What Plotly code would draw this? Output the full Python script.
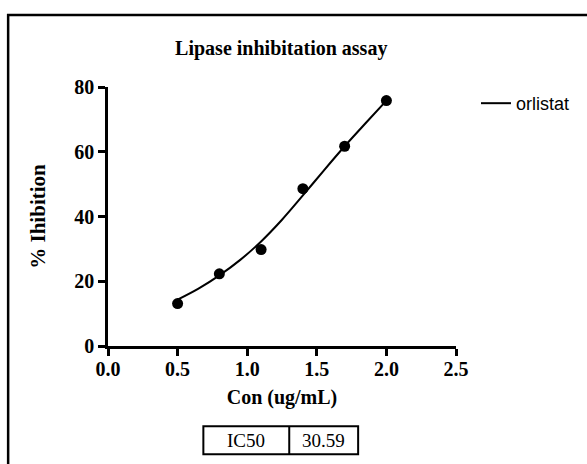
import plotly.graph_objects as go

# Data
conc = [0.5, 0.8, 1.1, 1.4, 1.7, 2.0]
inhibition = [13.1, 22.3, 29.8, 48.6, 61.7, 75.8]

# fitted curve
curve_x = [0.5, 0.65, 0.8, 0.95, 1.1, 1.25, 1.4, 1.55, 1.7, 1.85, 2.0]
curve_y = [14.3, 17.7, 21.8, 26.6, 32.3, 39.0, 46.5, 54.2, 61.7, 68.8, 75.8]

series_name = "orlistat"
x_ticks = [0.0, 0.5, 1.0, 1.5, 2.0, 2.5]
y_ticks = [0, 20, 40, 60, 80]
table_cells = ["IC50", "30.59"]

W, H = 587, 464
L, R = 107.5, 456.0
T, B = 86.5, 345.7

def px(xp):
    return (xp - L) / (R - L)

def py(yp):
    return (B - yp) / (B - T)

serif_b = dict(family="Liberation Serif, Times New Roman, serif", size=20, color="black", weight="bold")

fig = go.Figure()
fig.add_trace(go.Scatter(x=curve_x, y=curve_y, mode="lines", name=series_name,
                         line=dict(color="black", width=2, shape="spline"), showlegend=True))
fig.add_trace(go.Scatter(x=conc, y=inhibition, mode="markers", name=series_name,
                         marker=dict(color="black", size=11), showlegend=False))

fig.update_layout(
    width=W, height=H,
    margin=dict(l=L, r=W - R, t=T, b=H - B, pad=0),
    paper_bgcolor="white", plot_bgcolor="white",
    title=dict(text="Lipase inhibitation assay", x=px(281), xref="paper", xanchor="center",
               y=1 - 48 / H, yanchor="middle", font=dict(serif_b, size=20)),
    legend=dict(x=px(476), y=py(103), xanchor="left", yanchor="middle", xref="paper", yref="paper",
                font=dict(family="Liberation Sans, Arial, sans-serif", size=18, color="black"),
                bgcolor="rgba(0,0,0,0)", itemwidth=30, tracegroupgap=0),
    xaxis=dict(range=[0, 2.5], tickvals=x_ticks, ticktext=[f"{v:.1f}" for v in x_ticks],
               showgrid=False, zeroline=False, showline=True, linecolor="black", linewidth=2.5,
               ticks="outside", ticklen=7, tickwidth=2.5, tickcolor="black",
               tickfont=serif_b, ticklabelstandoff=-4,
               title=dict(text="Con (ug/mL)", font=serif_b, standoff=12)),
    yaxis=dict(range=[0, 80], tickvals=y_ticks, ticktext=[str(v) for v in y_ticks],
               showgrid=False, zeroline=False, showline=True, linecolor="black", linewidth=2.5,
               ticks="outside", ticklen=7, tickwidth=2.5, tickcolor="black",
               tickfont=serif_b, ticklabelstandoff=0,
               title=dict(text="% Ihibition", font=dict(serif_b, size=21), standoff=23)),
)

# outer frame (top and left edges visible, rest off-page)
fig.add_shape(type="rect", xref="paper", yref="paper",
              x0=px(7.5), x1=px(620), y0=py(500), y1=py(14.5),
              line=dict(color="black", width=2.5), fillcolor="rgba(0,0,0,0)", layer="below")

# IC50 table
bx0, bdiv, bx1 = 203, 289, 358
by0, by1 = 426, 454
fig.add_shape(type="rect", xref="paper", yref="paper",
              x0=px(bx0), x1=px(bx1), y0=py(by1), y1=py(by0),
              line=dict(color="black", width=2))
fig.add_shape(type="line", xref="paper", yref="paper",
              x0=px(bdiv), x1=px(bdiv), y0=py(by1), y1=py(by0),
              line=dict(color="black", width=2))
serif_r = dict(family="Liberation Serif, Times New Roman, serif", size=19, color="black")
fig.add_annotation(text=table_cells[0], xref="paper", yref="paper", x=px((bx0 + bdiv) / 2),
                   y=py((by0 + by1) / 2), showarrow=False, font=serif_r,
                   xanchor="center", yanchor="middle")
fig.add_annotation(text=table_cells[1], xref="paper", yref="paper", x=px((bdiv + bx1) / 2),
                   y=py((by0 + by1) / 2), showarrow=False, font=serif_r,
                   xanchor="center", yanchor="middle")

fig.write_html("out.html")
